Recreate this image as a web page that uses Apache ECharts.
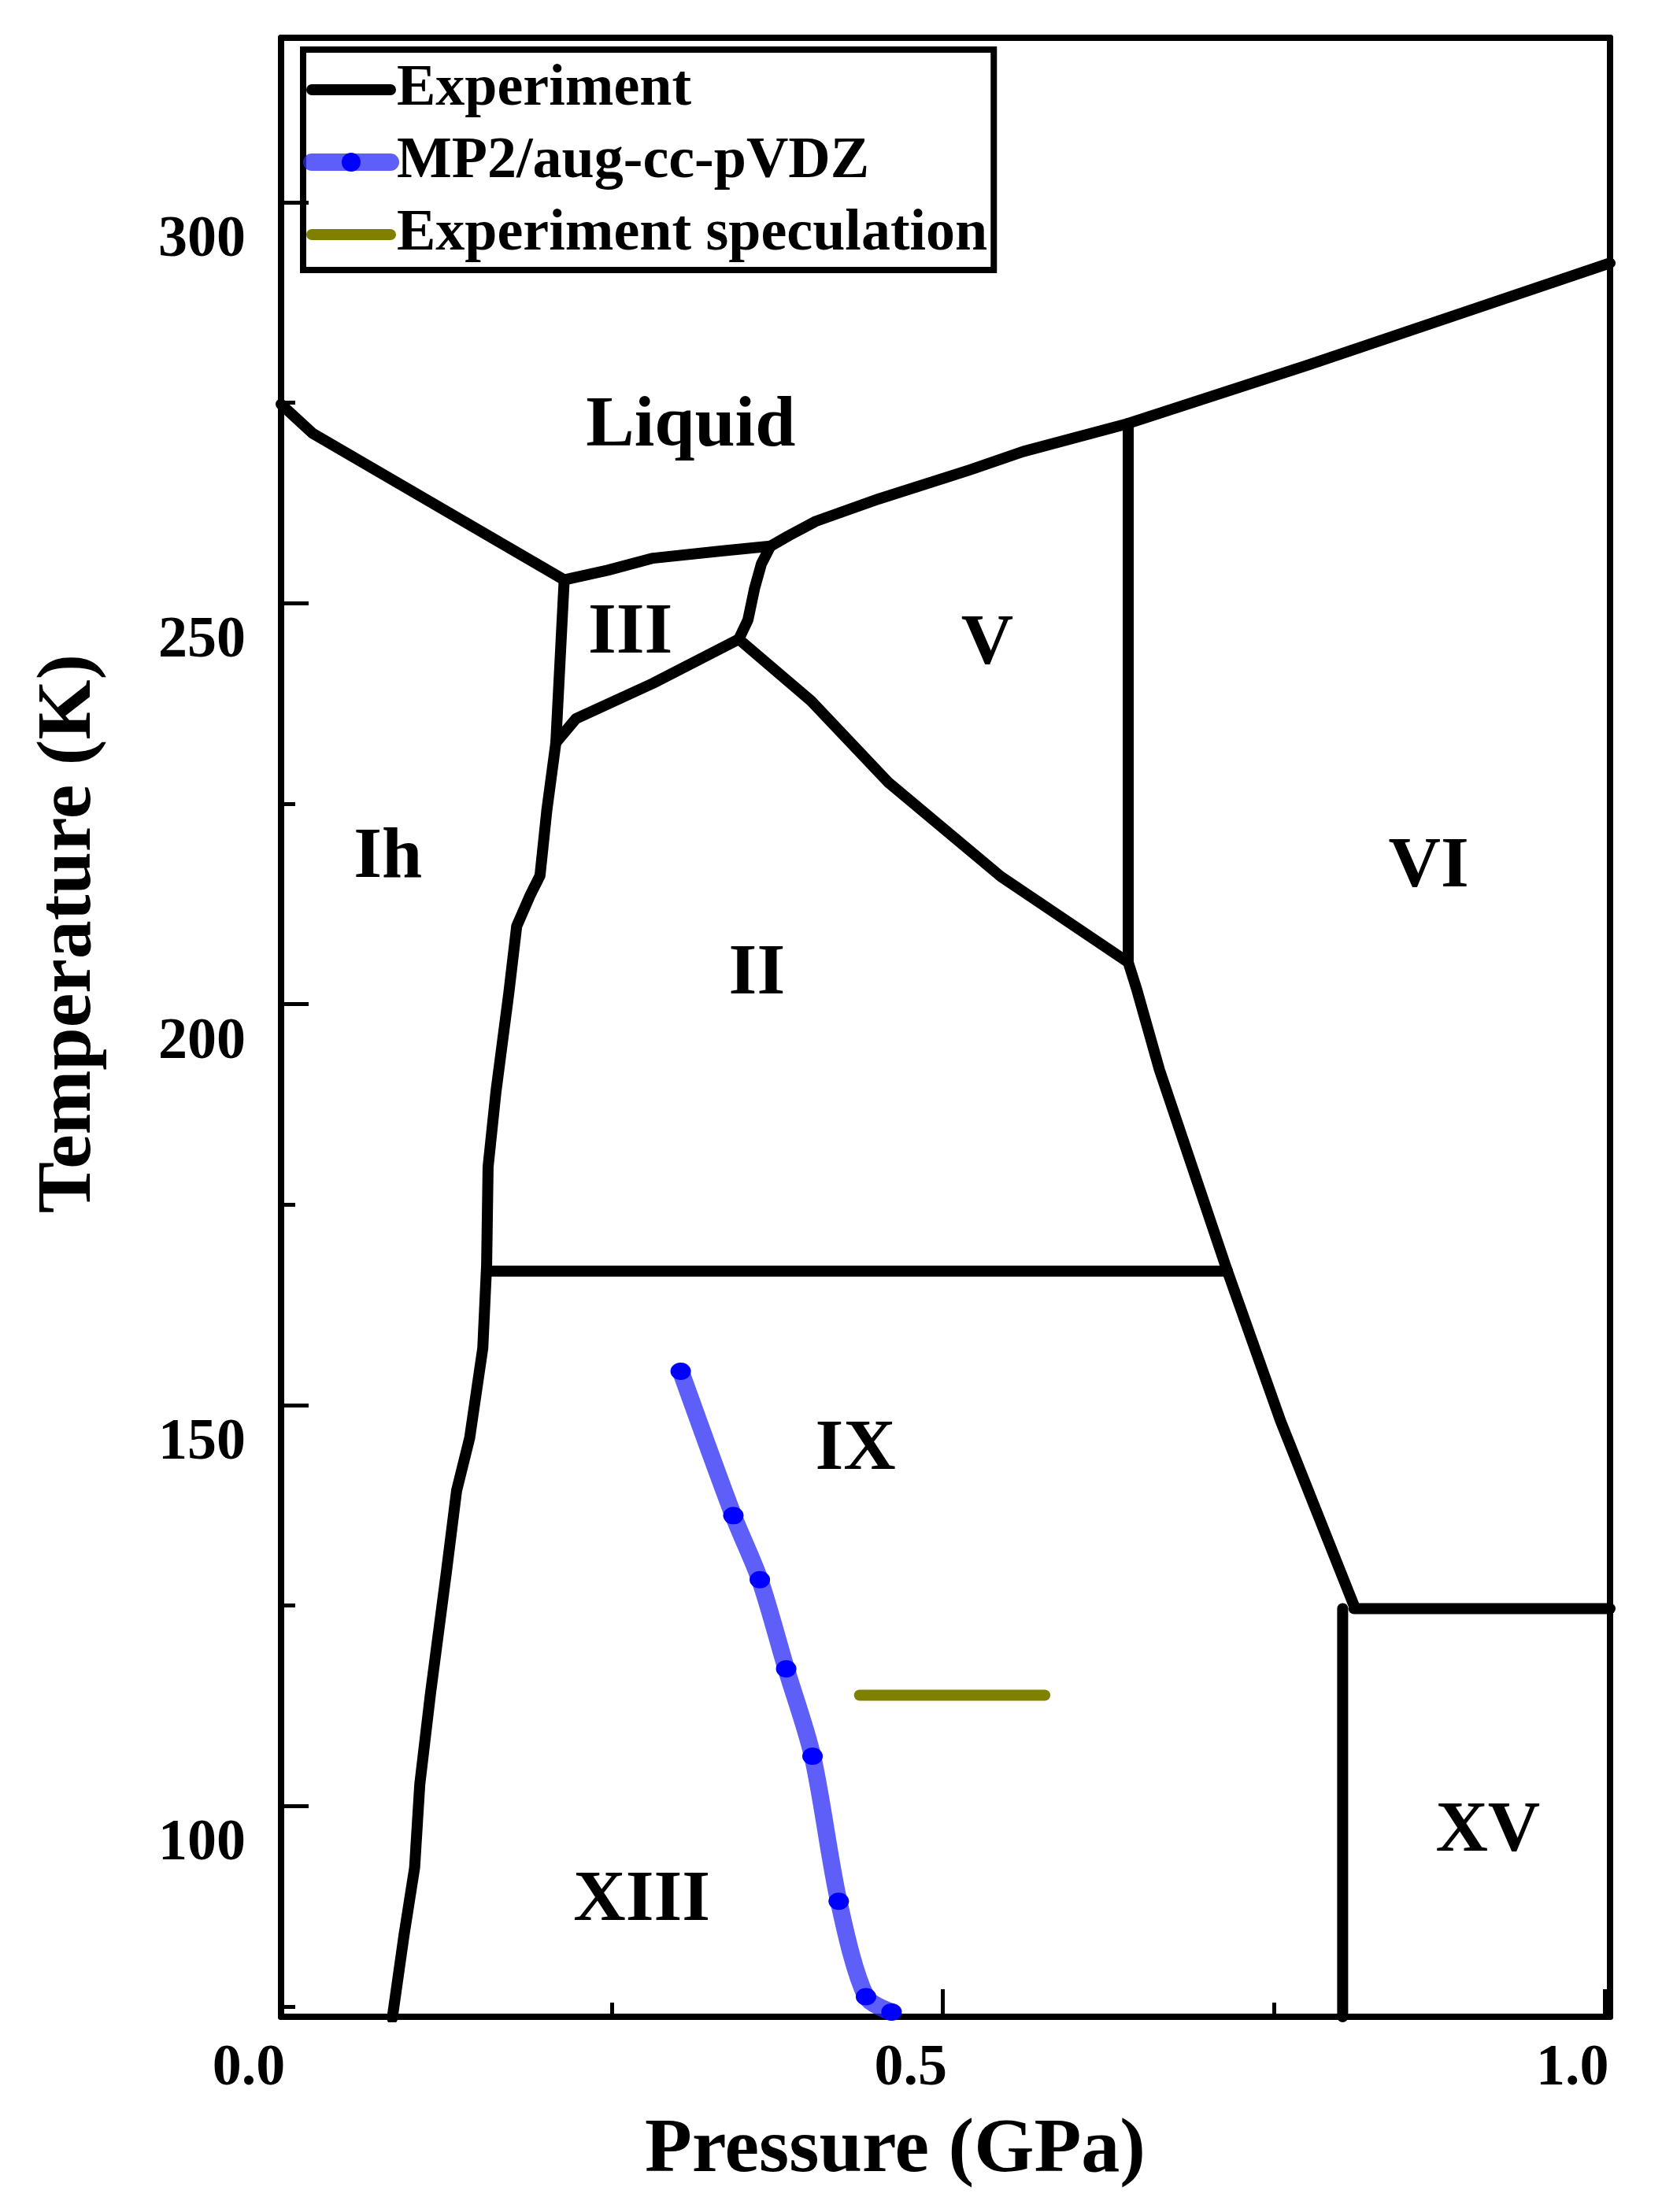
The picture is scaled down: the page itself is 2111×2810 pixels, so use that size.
<!DOCTYPE html>
<html><head><meta charset="utf-8">
<script src="https://cdn.jsdelivr.net/npm/echarts@6/dist/echarts.min.js"></script>
<style>html,body{margin:0;padding:0;background:#fff}#c{width:2111px;height:2810px}</style>
</head><body><div id="c"></div>
<script>
// ---- data (Pressure GPa, Temperature K) ----
const meltIh  = [[0.0, 274.8], [0.0236, 271.2], [0.2139, 252.9]];
const meltIII = [[0.2139, 252.9], [0.2468, 254.1], [0.281, 255.6], [0.3322, 256.5], [0.3697, 257.1]];
const meltV   = [[0.3697, 257.1], [0.3834, 258.4], [0.4039, 260.2], [0.4517, 263.0], [0.52, 266.6], [0.5606, 268.9], [0.640, 272.4]];
const meltVI  = [[0.640, 272.4], [0.776, 279.7], [1.004, 292.4]];
const bIhIII  = [[0.2139, 252.9], [0.2076, 232.6]];
const bIIIV   = [[0.3697, 257.1], [0.3629, 254.9], [0.3578, 251.9], [0.3527, 247.9], [0.3458, 245.5]];
const bIIIII  = [[0.3458, 245.5], [0.281, 240.0], [0.2229, 235.6], [0.2076, 232.6]];
const bIIV    = [[0.3458, 245.5], [0.4004, 237.8], [0.4584, 227.7], [0.5438, 215.9], [0.640, 205.2]];
const bVVI    = [[0.640, 272.4], [0.640, 205.2]];
const bIhLow  = [[0.2076, 232.6], [0.2008, 224.2], [0.1956, 216.0], [0.188, 213.5], [0.178, 209.7], [0.172, 201.3], [0.1623, 189.0], [0.1564, 179.7], [0.1553, 167.5], [0.1524, 157.1], [0.1425, 145.9], [0.1326, 139.3], [0.1247, 128.9], [0.1128, 113.9], [0.1048, 102.7], [0.1009, 92.3], [0.0929, 83.9], [0.084, 73.5]];
const bIIVI   = [[0.640, 205.2], [0.6463, 201.9], [0.6636, 191.8], [0.7149, 166.7]];
const bIXVI   = [[0.7149, 166.7], [0.7551, 148.0], [0.8105, 125.0]];
const bIIIX   = [[0.1553, 166.7], [0.7149, 166.7]];
const bVIXV   = [[0.8105, 124.6], [1.004, 124.6]];
const bXIIIXV = [[0.802, 124.6], [0.802, 73.7]];

const mp2P = [0.3019, 0.3417, 0.3617, 0.3816, 0.4015, 0.4213, 0.4419, 0.4612];
const mp2T = [154.2, 136.2, 128.2, 117.1, 106.2, 88.1, 76.2, 74.3];

const specP = [0.437, 0.577];
const specT = [113.8, 113.8];

const regionNames = ['Liquid', 'III', 'V', 'Ih', 'VI', 'II', 'IX', 'XIII', 'XV'];
const regionP = [0.3095, 0.2639, 0.5335, 0.0807, 0.867, 0.3595, 0.4339, 0.2725, 0.9117];
const regionT = [272.9, 247.0, 245.7, 219.1, 217.9, 204.5, 145.2, 89.0, 97.6];

const xTickVals = [0, 0.5, 1.0];
const xTickLabels = ['0.0', '0.5', '1.0'];
const xMinorVals = [0.25, 0.75];
const yTickVals = [100, 150, 200, 250, 300];
const yTickLabels = ['100', '150', '200', '250', '300'];
const yMinorVals = [75, 125, 175, 225, 275];

const X_MIN = 0, X_MAX = 1.004, Y_MIN = 73.7, Y_MAX = 320.5;

// ---- build ----
const FONT = '"Liberation Serif", "Times New Roman", serif';
const chart = echarts.init(document.getElementById('c'), null, {renderer: 'canvas'});

const expLines = [meltIh, meltIII, meltV, meltVI, bIhIII, bIIIV, bIIIII, bIIV, bVVI, bIhLow, bIIVI, bIXVI, bIIIX, bVIXV, bXIIIXV];
const series = expLines.map(d => ({
  name: 'Experiment', type: 'line', data: d, xAxisIndex: 0, yAxisIndex: 0,
  symbol: 'none', showSymbol: false, smooth: false, animation: false,
  itemStyle: {color: '#000'},
  lineStyle: {color: '#000', width: 14, cap: 'round', join: 'round'}, z: 3
}));
series.push({
  name: 'MP2/aug-cc-pVDZ', type: 'line', xAxisIndex: 0, yAxisIndex: 0,
  data: mp2P.map((p, i) => [p, mp2T[i]]), smooth: 0.3, animation: false,
  symbol: 'circle', symbolSize: [26, 22], showSymbol: true,
  itemStyle: {color: '#0000ff'},
  lineStyle: {color: 'rgba(40,40,245,0.75)', width: 22, cap: 'round', join: 'round'}, z: 4
});
series.push({
  name: 'Experiment speculation', type: 'line', xAxisIndex: 0, yAxisIndex: 0,
  data: specP.map((p, i) => [p, specT[i]]), symbol: 'none', showSymbol: false, animation: false,
  itemStyle: {color: '#808000'},
  lineStyle: {color: '#808000', width: 14, cap: 'round'}, z: 4
});
series.push({
  name: 'regions', type: 'scatter', xAxisIndex: 0, yAxisIndex: 0, animation: false,
  data: regionNames.map((n, i) => [regionP[i], regionT[i], n]),
  symbolSize: 1, itemStyle: {color: 'rgba(0,0,0,0)', opacity: 1}, silent: true,
  label: {show: true, position: 'inside', offset: [0, 9], formatter: p => p.data[2],
    fontFamily: FONT, fontWeight: 'bold', fontSize: 92, color: '#000', opacity: 1}, z: 5
});

const lineAx = {show: true, onZero: false, lineStyle: {color: '#000', width: 8}};
const option = {
  backgroundColor: '#fff',
  animation: false,
  grid: {left: 357, right: 66, top: 48, bottom: 248},
  legend: {
    data: [
      {name: 'Experiment', itemStyle: {opacity: 0}},
      {name: 'MP2/aug-cc-pVDZ'},
      {name: 'Experiment speculation', itemStyle: {opacity: 0}}
    ],
    orient: 'vertical', left: 385, top: 63,
    itemWidth: 100, itemHeight: 30, itemGap: 18,
    padding: [14, 8, 8, 0],
    borderColor: '#000', borderWidth: 8, selectedMode: false,
    lineStyle: {width: 'inherit', cap: 'round'},
    textStyle: {fontFamily: FONT, fontWeight: 'bold', fontSize: 74, color: '#000', padding: [0, 0, 0, 3]}
  },
  xAxis: [
    {type: 'value', min: X_MIN, max: X_MAX, position: 'bottom',
     axisLine: lineAx,
     axisTick: {show: true, inside: true, length: 35, customValues: xTickVals, lineStyle: {color: '#000', width: 5}},
     axisLabel: {show: true, customValues: xTickVals, formatter: v => xTickLabels[xTickVals.indexOf(v)] ?? v,
       margin: 30, padding: [0, 82, 0, 0], fontFamily: FONT, fontWeight: 'bold', fontSize: 74, color: '#000'},
     splitLine: {show: false},
     name: 'Pressure (GPa)', nameLocation: 'middle', nameGap: 122,
     nameTextStyle: {fontFamily: FONT, fontWeight: 'bold', fontSize: 98, color: '#000', padding: [0, 128, 0, 0]}},
    {type: 'value', min: X_MIN, max: X_MAX, position: 'top',
     axisLine: lineAx, axisTick: {show: false}, axisLabel: {show: false}, splitLine: {show: false}},
    {type: 'value', min: X_MIN, max: X_MAX, position: 'bottom',
     axisLine: {show: false, onZero: false},
     axisTick: {show: true, inside: true, length: 18, customValues: xMinorVals, lineStyle: {color: '#000', width: 5}},
     axisLabel: {show: false}, splitLine: {show: false}}
  ],
  yAxis: [
    {type: 'value', min: Y_MIN, max: Y_MAX, position: 'left',
     axisLine: lineAx,
     axisTick: {show: true, inside: true, length: 35, customValues: yTickVals, lineStyle: {color: '#000', width: 5}},
     axisLabel: {show: true, customValues: yTickVals, formatter: v => yTickLabels[yTickVals.indexOf(v)] ?? v,
       margin: 45, verticalAlign: 'top', lineHeight: 98, fontFamily: FONT, fontWeight: 'bold', fontSize: 74, color: '#000'},
     splitLine: {show: false},
     name: 'Temperature (K)', nameLocation: 'middle', nameGap: 219,
     nameTextStyle: {fontFamily: FONT, fontWeight: 'bold', fontSize: 98, color: '#000', padding: [0, 0, 0, 238]}},
    {type: 'value', min: Y_MIN, max: Y_MAX, position: 'right',
     axisLine: lineAx, axisTick: {show: false}, axisLabel: {show: false}, splitLine: {show: false}},
    {type: 'value', min: Y_MIN, max: Y_MAX, position: 'left',
     axisLine: {show: false, onZero: false},
     axisTick: {show: true, inside: true, length: 18, customValues: yMinorVals, lineStyle: {color: '#000', width: 5}},
     axisLabel: {show: false}, splitLine: {show: false}}
  ],
  series: series
};
chart.setOption(option);
</script></body></html>
